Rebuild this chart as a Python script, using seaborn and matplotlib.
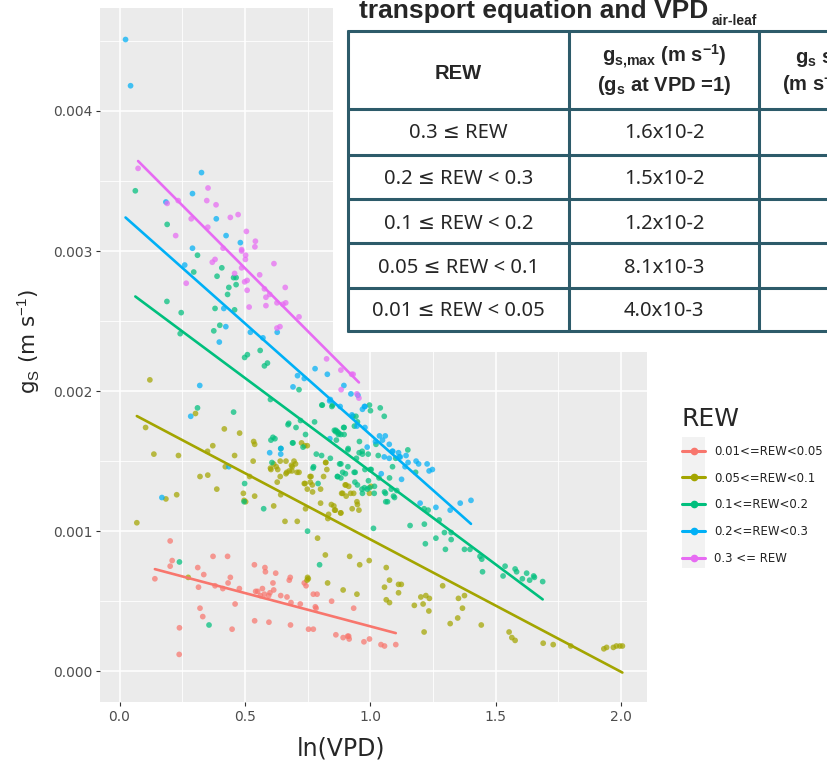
import pandas as pd
import matplotlib
matplotlib.use("Agg")
import matplotlib.pyplot as plt
import seaborn as sns
from matplotlib.lines import Line2D
from matplotlib.patches import Rectangle
from matplotlib.ticker import MultipleLocator

# (ln VPD, gs in m s-1), one list per REW class
pts_rew_001 = [
    (0.202, 0.00093), (0.210, 0.00079), (0.202, 0.00075), (0.141, 0.00066), (0.312, 0.00074),
    (0.336, 0.00069), (0.315, 0.00060), (0.373, 0.00082), (0.431, 0.00082), (0.381, 0.00061),
    (0.412, 0.00059), (0.433, 0.00063), (0.442, 0.00067), (0.478, 0.00059), (0.321, 0.00045),
    (0.332, 0.00039), (0.461, 0.00048), (0.239, 0.00031), (0.238, 0.00012), (0.449, 0.00030),
    (0.538, 0.00076), (0.580, 0.00074), (0.582, 0.00071), (0.623, 0.00070), (0.612, 0.00063),
    (0.543, 0.00057), (0.551, 0.00057), (0.570, 0.00059), (0.578, 0.00055), (0.600, 0.00056),
    (0.615, 0.00058), (0.562, 0.00054), (0.595, 0.00054), (0.643, 0.00054), (0.668, 0.00053),
    (0.677, 0.00065), (0.681, 0.00067), (0.684, 0.00049), (0.721, 0.00048), (0.737, 0.00063),
    (0.744, 0.00061), (0.773, 0.00055), (0.788, 0.00055), (0.781, 0.00046), (0.784, 0.00045),
    (0.846, 0.00050), (0.539, 0.00036), (0.596, 0.00035), (0.682, 0.00033), (0.754, 0.00030),
    (0.773, 0.00030), (0.863, 0.00026), (0.892, 0.00024), (0.910, 0.00025), (0.934, 0.00045),
    (0.914, 0.00025), (0.916, 0.00023), (0.975, 0.00021), (0.997, 0.00023), (1.043, 0.00019),
    (1.057, 0.00018), (1.102, 0.00019),
]

pts_rew_005 = [
    (0.121, 0.00208), (0.303, 0.00184), (0.418, 0.00173), (0.479, 0.00170), (0.104, 0.00174),
    (0.137, 0.00155), (0.235, 0.00154), (0.351, 0.00157), (0.372, 0.00161), (0.459, 0.00154),
    (0.535, 0.00164), (0.539, 0.00162), (0.726, 0.00163), (0.749, 0.00161), (0.738, 0.00161),
    (0.533, 0.00150), (0.664, 0.00150), (0.696, 0.00150), (0.702, 0.00148), (0.686, 0.00147),
    (0.822, 0.00149), (0.625, 0.00146), (0.602, 0.00145), (0.422, 0.00146), (0.321, 0.00139),
    (0.352, 0.00140), (0.388, 0.00130), (0.185, 0.00123), (0.228, 0.00126), (0.069, 0.00106),
    (0.519, 0.00139), (0.494, 0.00127), (0.497, 0.00122), (0.503, 0.00121), (0.539, 0.00125),
    (0.615, 0.00118), (0.643, 0.00126), (0.629, 0.00135), (0.641, 0.00139), (0.664, 0.00141),
    (0.688, 0.00143), (0.716, 0.00142), (0.760, 0.00139), (0.814, 0.00139), (0.740, 0.00134),
    (0.749, 0.00130), (0.769, 0.00133), (0.770, 0.00128), (0.802, 0.00130), (0.660, 0.00107),
    (0.709, 0.00107), (0.742, 0.00116), (0.802, 0.00120), (0.845, 0.00119), (0.855, 0.00118),
    (0.861, 0.00115), (0.834, 0.00112), (0.831, 0.00109), (0.883, 0.00113), (0.886, 0.00127),
    (0.904, 0.00125), (0.790, 0.00095), (0.821, 0.00083), (0.830, 0.00063), (0.892, 0.00058),
    (0.750, 0.00067), (0.753, 0.00066), (0.748, 0.00065), (0.274, 0.00067), (0.604, 0.00144),
    (0.615, 0.00148), (0.641, 0.00150), (0.708, 0.00142), (0.667, 0.00142), (0.631, 0.00144),
    (0.689, 0.00146), (0.677, 0.00143), (0.737, 0.00134), (0.764, 0.00139), (0.761, 0.00135),
    (0.823, 0.00149), (0.827, 0.00144), (0.922, 0.00127), (0.903, 0.00133), (0.928, 0.00116),
    (0.947, 0.00121), (0.955, 0.00115), (0.997, 0.00127), (1.003, 0.00132), (0.900, 0.00133),
    (0.914, 0.00132), (0.890, 0.00127), (0.934, 0.00127), (0.858, 0.00115), (0.882, 0.00113),
    (0.949, 0.00119), (0.918, 0.00082), (0.958, 0.00076), (0.996, 0.00079), (1.064, 0.00074),
    (1.077, 0.00065), (1.057, 0.00060), (1.113, 0.00062), (1.124, 0.00062), (1.113, 0.00056),
    (1.064, 0.00051), (1.077, 0.00049), (0.947, 0.00055), (1.202, 0.00053), (1.222, 0.00054),
    (1.236, 0.00052), (1.176, 0.00047), (1.211, 0.00048), (1.234, 0.00043), (1.215, 0.00028),
    (1.289, 0.00061), (1.352, 0.00052), (1.376, 0.00054), (1.368, 0.00045), (1.349, 0.00038),
    (1.319, 0.00034), (1.443, 0.00033), (1.554, 0.00028), (1.565, 0.00024), (1.578, 0.00022),
    (1.690, 0.00020), (1.730, 0.00019), (1.800, 0.00018), (1.932, 0.00016), (1.943, 0.00017),
    (1.970, 0.00017), (1.982, 0.00018), (1.996, 0.00018), (2.006, 0.00018),
]

pts_rew_01 = [
    (0.063, 0.00343), (0.190, 0.00319), (0.311, 0.00297), (0.296, 0.00285), (0.408, 0.00288),
    (0.389, 0.00282), (0.455, 0.00281), (0.465, 0.00281), (0.465, 0.00276), (0.436, 0.00274),
    (0.431, 0.00269), (0.189, 0.00264), (0.246, 0.00256), (0.381, 0.00259), (0.459, 0.00258),
    (0.400, 0.00247), (0.376, 0.00243), (0.242, 0.00241), (0.561, 0.00229), (0.510, 0.00226),
    (0.499, 0.00224), (0.590, 0.00220), (0.578, 0.00218), (0.716, 0.00201), (0.602, 0.00194),
    (0.809, 0.00190), (0.850, 0.00190), (0.311, 0.00188), (0.455, 0.00185), (0.675, 0.00177),
    (0.704, 0.00174), (0.722, 0.00179), (0.778, 0.00178), (0.862, 0.00171), (0.869, 0.00171),
    (0.883, 0.00169), (0.865, 0.00165), (0.604, 0.00165), (0.620, 0.00166), (0.692, 0.00163),
    (0.732, 0.00160), (0.785, 0.00155), (0.608, 0.00149), (0.841, 0.00152), (0.883, 0.00148),
    (0.774, 0.00146), (0.499, 0.00134), (0.575, 0.00116), (0.869, 0.00139), (0.883, 0.00138),
    (0.901, 0.00141), (0.792, 0.00134), (0.750, 0.00100), (0.798, 0.00076), (0.239, 0.00078),
    (0.357, 0.00033), (0.497, 0.00121), (0.997, 0.00190), (1.001, 0.00186), (1.040, 0.00188),
    (1.056, 0.00182), (0.931, 0.00182), (0.943, 0.00182), (0.896, 0.00174), (0.863, 0.00172),
    (0.873, 0.00169), (0.896, 0.00169), (0.937, 0.00175), (0.949, 0.00178), (0.911, 0.00158),
    (0.957, 0.00164), (0.956, 0.00156), (0.969, 0.00155), (1.023, 0.00162), (1.150, 0.00158),
    (1.032, 0.00154), (1.089, 0.00146), (1.102, 0.00152), (1.181, 0.00142), (0.878, 0.00148),
    (0.911, 0.00146), (0.979, 0.00144), (1.004, 0.00144), (0.945, 0.00152), (0.870, 0.00139),
    (0.890, 0.00142), (0.940, 0.00142), (0.939, 0.00135), (0.949, 0.00133), (0.993, 0.00136),
    (0.997, 0.00131), (0.969, 0.00127), (0.977, 0.00131), (1.017, 0.00132), (1.016, 0.00127),
    (1.057, 0.00128), (1.069, 0.00121), (1.084, 0.00130), (1.097, 0.00124), (1.159, 0.00104),
    (1.013, 0.00102), (1.216, 0.00105), (1.220, 0.00091), (1.262, 0.00095), (1.296, 0.00099),
    (1.323, 0.00099), (1.323, 0.00094), (1.300, 0.00087), (1.376, 0.00087), (1.398, 0.00087),
    (1.438, 0.00082), (1.445, 0.00080), (1.448, 0.00071), (1.215, 0.00116), (1.231, 0.00115),
    (1.275, 0.00108), (1.538, 0.00075), (1.530, 0.00068), (1.578, 0.00073), (1.584, 0.00071),
    (1.607, 0.00066), (1.624, 0.00070), (1.636, 0.00065), (1.652, 0.00068), (1.655, 0.00067),
    (1.688, 0.00064), (0.612, 0.00167), (0.643, 0.00159), (0.672, 0.00176), (0.690, 0.00163),
    (0.742, 0.00169), (0.806, 0.00154), (0.857, 0.00172), (0.875, 0.00170), (0.894, 0.00174),
    (0.912, 0.00159), (0.936, 0.00142), (0.967, 0.00130), (0.988, 0.00130), (0.968, 0.00157),
    (0.992, 0.00155), (1.000, 0.00144), (1.035, 0.00138), (1.061, 0.00127), (1.077, 0.00138),
    (1.093, 0.00125), (1.062, 0.00121), (1.106, 0.00129), (0.807, 0.00190), (0.847, 0.00189),
    (0.772, 0.00145),
]

pts_rew_02 = [
    (0.024, 0.00451), (0.044, 0.00418), (0.185, 0.00335), (0.327, 0.00356), (0.291, 0.00341),
    (0.386, 0.00323), (0.425, 0.00311), (0.482, 0.00306), (0.291, 0.00302), (0.260, 0.00290),
    (0.416, 0.00259), (0.424, 0.00246), (0.398, 0.00235), (0.522, 0.00242), (0.572, 0.00238),
    (0.629, 0.00242), (0.780, 0.00216), (0.829, 0.00212), (0.710, 0.00211), (0.737, 0.00209),
    (0.692, 0.00203), (0.895, 0.00204), (0.320, 0.00204), (0.838, 0.00193), (0.284, 0.00182),
    (0.839, 0.00166), (0.599, 0.00156), (0.644, 0.00159), (0.643, 0.00155), (0.436, 0.00146),
    (0.169, 0.00124), (0.923, 0.00198), (0.969, 0.00187), (0.979, 0.00189), (0.979, 0.00174),
    (0.988, 0.00160), (1.049, 0.00165), (1.060, 0.00168), (1.076, 0.00162), (1.090, 0.00157),
    (1.113, 0.00156), (1.120, 0.00153), (1.143, 0.00154), (1.056, 0.00153), (1.076, 0.00152),
    (1.139, 0.00146), (1.151, 0.00149), (1.183, 0.00150), (1.193, 0.00148), (1.227, 0.00148),
    (1.235, 0.00143), (1.248, 0.00144), (1.125, 0.00137), (1.044, 0.00141), (1.199, 0.00120),
    (1.262, 0.00117), (1.359, 0.00120), (1.402, 0.00122), (1.319, 0.00115), (0.841, 0.00194),
    (0.880, 0.00189), (0.951, 0.00197), (0.977, 0.00189), (0.927, 0.00183), (0.947, 0.00175),
    (1.021, 0.00164), (1.037, 0.00168), (1.088, 0.00157), (1.116, 0.00153),
]

pts_rew_03 = [
    (0.074, 0.00359), (0.190, 0.00334), (0.234, 0.00336), (0.353, 0.00345), (0.348, 0.00336),
    (0.385, 0.00333), (0.286, 0.00323), (0.442, 0.00324), (0.473, 0.00326), (0.352, 0.00317),
    (0.224, 0.00311), (0.506, 0.00314), (0.542, 0.00307), (0.540, 0.00303), (0.487, 0.00301),
    (0.413, 0.00302), (0.370, 0.00292), (0.381, 0.00294), (0.266, 0.00277), (0.459, 0.00284),
    (0.499, 0.00278), (0.509, 0.00279), (0.509, 0.00272), (0.487, 0.00288), (0.503, 0.00297),
    (0.502, 0.00294), (0.487, 0.00300), (0.559, 0.00283), (0.616, 0.00291), (0.661, 0.00274),
    (0.578, 0.00273), (0.584, 0.00267), (0.599, 0.00269), (0.584, 0.00261), (0.628, 0.00263),
    (0.652, 0.00262), (0.663, 0.00263), (0.517, 0.00260), (0.716, 0.00253), (0.640, 0.00246),
    (0.628, 0.00245), (0.826, 0.00223), (0.883, 0.00215), (0.884, 0.00201), (0.926, 0.00212),
    (0.932, 0.00212), (0.947, 0.00198), (0.955, 0.00195),
]

rew_labels = ["0.01<=REW<0.05", "0.05<=REW<0.1", "0.1<=REW<0.2", "0.2<=REW<0.3", "0.3 <= REW"]
rew_colors = ["#F8766D", "#A3A500", "#00BF7D", "#00B0F6", "#E76BF3"]

x_ticks = [0.0, 0.5, 1.0, 1.5, 2.0]
y_ticks = [0.000, 0.001, 0.002, 0.003, 0.004]

# table pasted over the plot
table_rew = ["0.3 \u2264 REW", "0.2 \u2264 REW < 0.3", "0.1 \u2264 REW < 0.2",
             "0.05 \u2264 REW < 0.1", "0.01 \u2264 REW < 0.05"]
table_gsmax = ["1.6x10-2", "1.5x10-2", "1.2x10-2", "8.1x10-3", "4.0x10-3"]

frames = []
for lab, pts in zip(rew_labels, [pts_rew_001, pts_rew_005, pts_rew_01, pts_rew_02, pts_rew_03]):
    d = pd.DataFrame(pts, columns=["lnVPD", "gs"])
    d["REW"] = lab
    frames.append(d)
df = pd.concat(frames, ignore_index=True)

sns.set_theme(style="darkgrid", rc={
    "axes.facecolor": "#EBEBEB",
    "grid.color": "white",
    "axes.axisbelow": True,
})
plt.rcParams["font.family"] = ["DejaVu Sans"]
plt.rcParams["mathtext.fontset"] = "custom"
plt.rcParams["mathtext.rm"] = "Liberation Sans"
plt.rcParams["mathtext.it"] = "Liberation Sans:italic"
plt.rcParams["mathtext.bf"] = "Liberation Sans:bold"

fig = plt.figure(figsize=(8.27, 7.62), dpi=100)
ax = fig.add_axes([0.1215, 0.0787, 0.6608, 0.9108])

sns.scatterplot(data=df, x="lnVPD", y="gs", hue="REW", hue_order=rew_labels,
                palette=rew_colors, s=17, alpha=0.72, edgecolor="none",
                legend=False, ax=ax)
for lab, col in zip(rew_labels, rew_colors):
    sns.regplot(data=df[df["REW"] == lab], x="lnVPD", y="gs", scatter=False,
                ci=None, color=col, line_kws={"lw": 1.9}, ax=ax)

ax.set_xlim(-0.076, 2.104)
ax.set_ylim(-0.00022, 0.004735)
ax.set_xticks(x_ticks)
ax.set_xticklabels([f"{v:.1f}" for v in x_ticks])
ax.set_yticks(y_ticks)
ax.set_yticklabels([f"{v:.3f}" for v in y_ticks])
ax.xaxis.set_minor_locator(MultipleLocator(0.25))
ax.yaxis.set_minor_locator(MultipleLocator(0.0005))
ax.grid(which="major", color="white", lw=1.1)
ax.grid(which="minor", color="white", lw=0.6)
for s in ax.spines.values():
    s.set_visible(False)
ax.tick_params(which="major", length=3, width=0.8, color="#333333",
               labelcolor="#4D4D4D", labelsize=10, pad=2.5, bottom=True, left=True)
ax.tick_params(which="minor", length=0)

ax.set_xlabel("ln(VPD)", fontsize=17)
ax.set_ylabel(r"g$_{\mathrm{S}}$ (m s$^{\mathrm{-1}}$)", fontsize=15.5)
ax.xaxis.set_label_coords(0.44, -0.049)
ax.yaxis.set_label_coords(-0.107, 0.519)

# overlay in pixel coordinates for the pasted table and legend key strip
ov = fig.add_axes([0, 0, 1, 1], zorder=3)
ov.set_xlim(0, 827)
ov.set_ylim(762, 0)
ov.axis("off")

ov.add_patch(Rectangle((333, -5), 500, 357, fc="white", ec="none"))
ov.add_patch(Rectangle((682, 437), 23, 131, fc="#F2F2F2", ec="none"))

tc = "#2D5B6A"
row_edges = [31, 109, 155, 199, 243, 288, 331]
col_edges = [348, 569, 759]
for yv in row_edges:
    ov.plot([347, 835], [yv, yv], color=tc, lw=2.2, solid_capstyle="butt")
for xv in col_edges:
    ov.plot([xv, xv], [30, 332], color=tc, lw=2.2, solid_capstyle="butt")

ov.text(359, 18, "transport equation and VPD", fontsize=19, fontweight="bold",
        family="Liberation Sans", ha="left", va="baseline")
ov.text(712, 25, "air-leaf", fontsize=10, fontweight="bold",
        family="Liberation Sans", ha="left", va="baseline")

hfont = ["Liberation Sans", "DejaVu Sans"]
ov.text(458.5, 79, "REW", fontsize=14.5, fontweight="bold", family=hfont,
        ha="center", va="baseline")
ov.text(664, 63, r"g$_{\mathbf{s{,}max}}$ (m s$^{\mathbf{-1}}$)", fontsize=14.5,
        fontweight="bold", family=hfont, ha="center", va="baseline")
ov.text(664, 91, r"(g$_{\mathbf{s}}$ at VPD =1)", fontsize=14.5,
        fontweight="bold", family=hfont, ha="center", va="baseline")
ov.text(795, 63, r"g$_{\mathbf{s}}$ slope", fontsize=14.5,
        fontweight="bold", family=hfont, ha="left", va="baseline")
ov.text(782, 91, r"(m s$^{\mathbf{-1}}$)", fontsize=14.5,
        fontweight="bold", family=hfont, ha="left", va="baseline")

bfont = ["Noto Sans", "DejaVu Sans"]
body_base = [138, 184, 229, 273, 316]
for yb, rew_txt, gmax in zip(body_base, table_rew, table_gsmax):
    ov.text(458.5, yb, rew_txt, fontsize=14.5, family=bfont, ha="center", va="baseline")
    ov.text(664, yb, gmax, fontsize=14.5, family=bfont, ha="center", va="baseline")

handles = [Line2D([0], [0], color=c, lw=2.2, marker="o", markersize=4.5) for c in rew_colors]
leg = fig.legend(handles, rew_labels, loc="upper left",
                 bbox_to_anchor=(682 / 827, 1 - 407 / 762), frameon=False,
                 title="REW", title_fontsize=18, fontsize=8.5, handlelength=1.95,
                 handletextpad=0.8, labelspacing=1.17, borderpad=0,
                 borderaxespad=0, alignment="left")
for t in leg.get_texts():
    t.set_color("#222222")

plt.savefig("out.png", dpi=100)
